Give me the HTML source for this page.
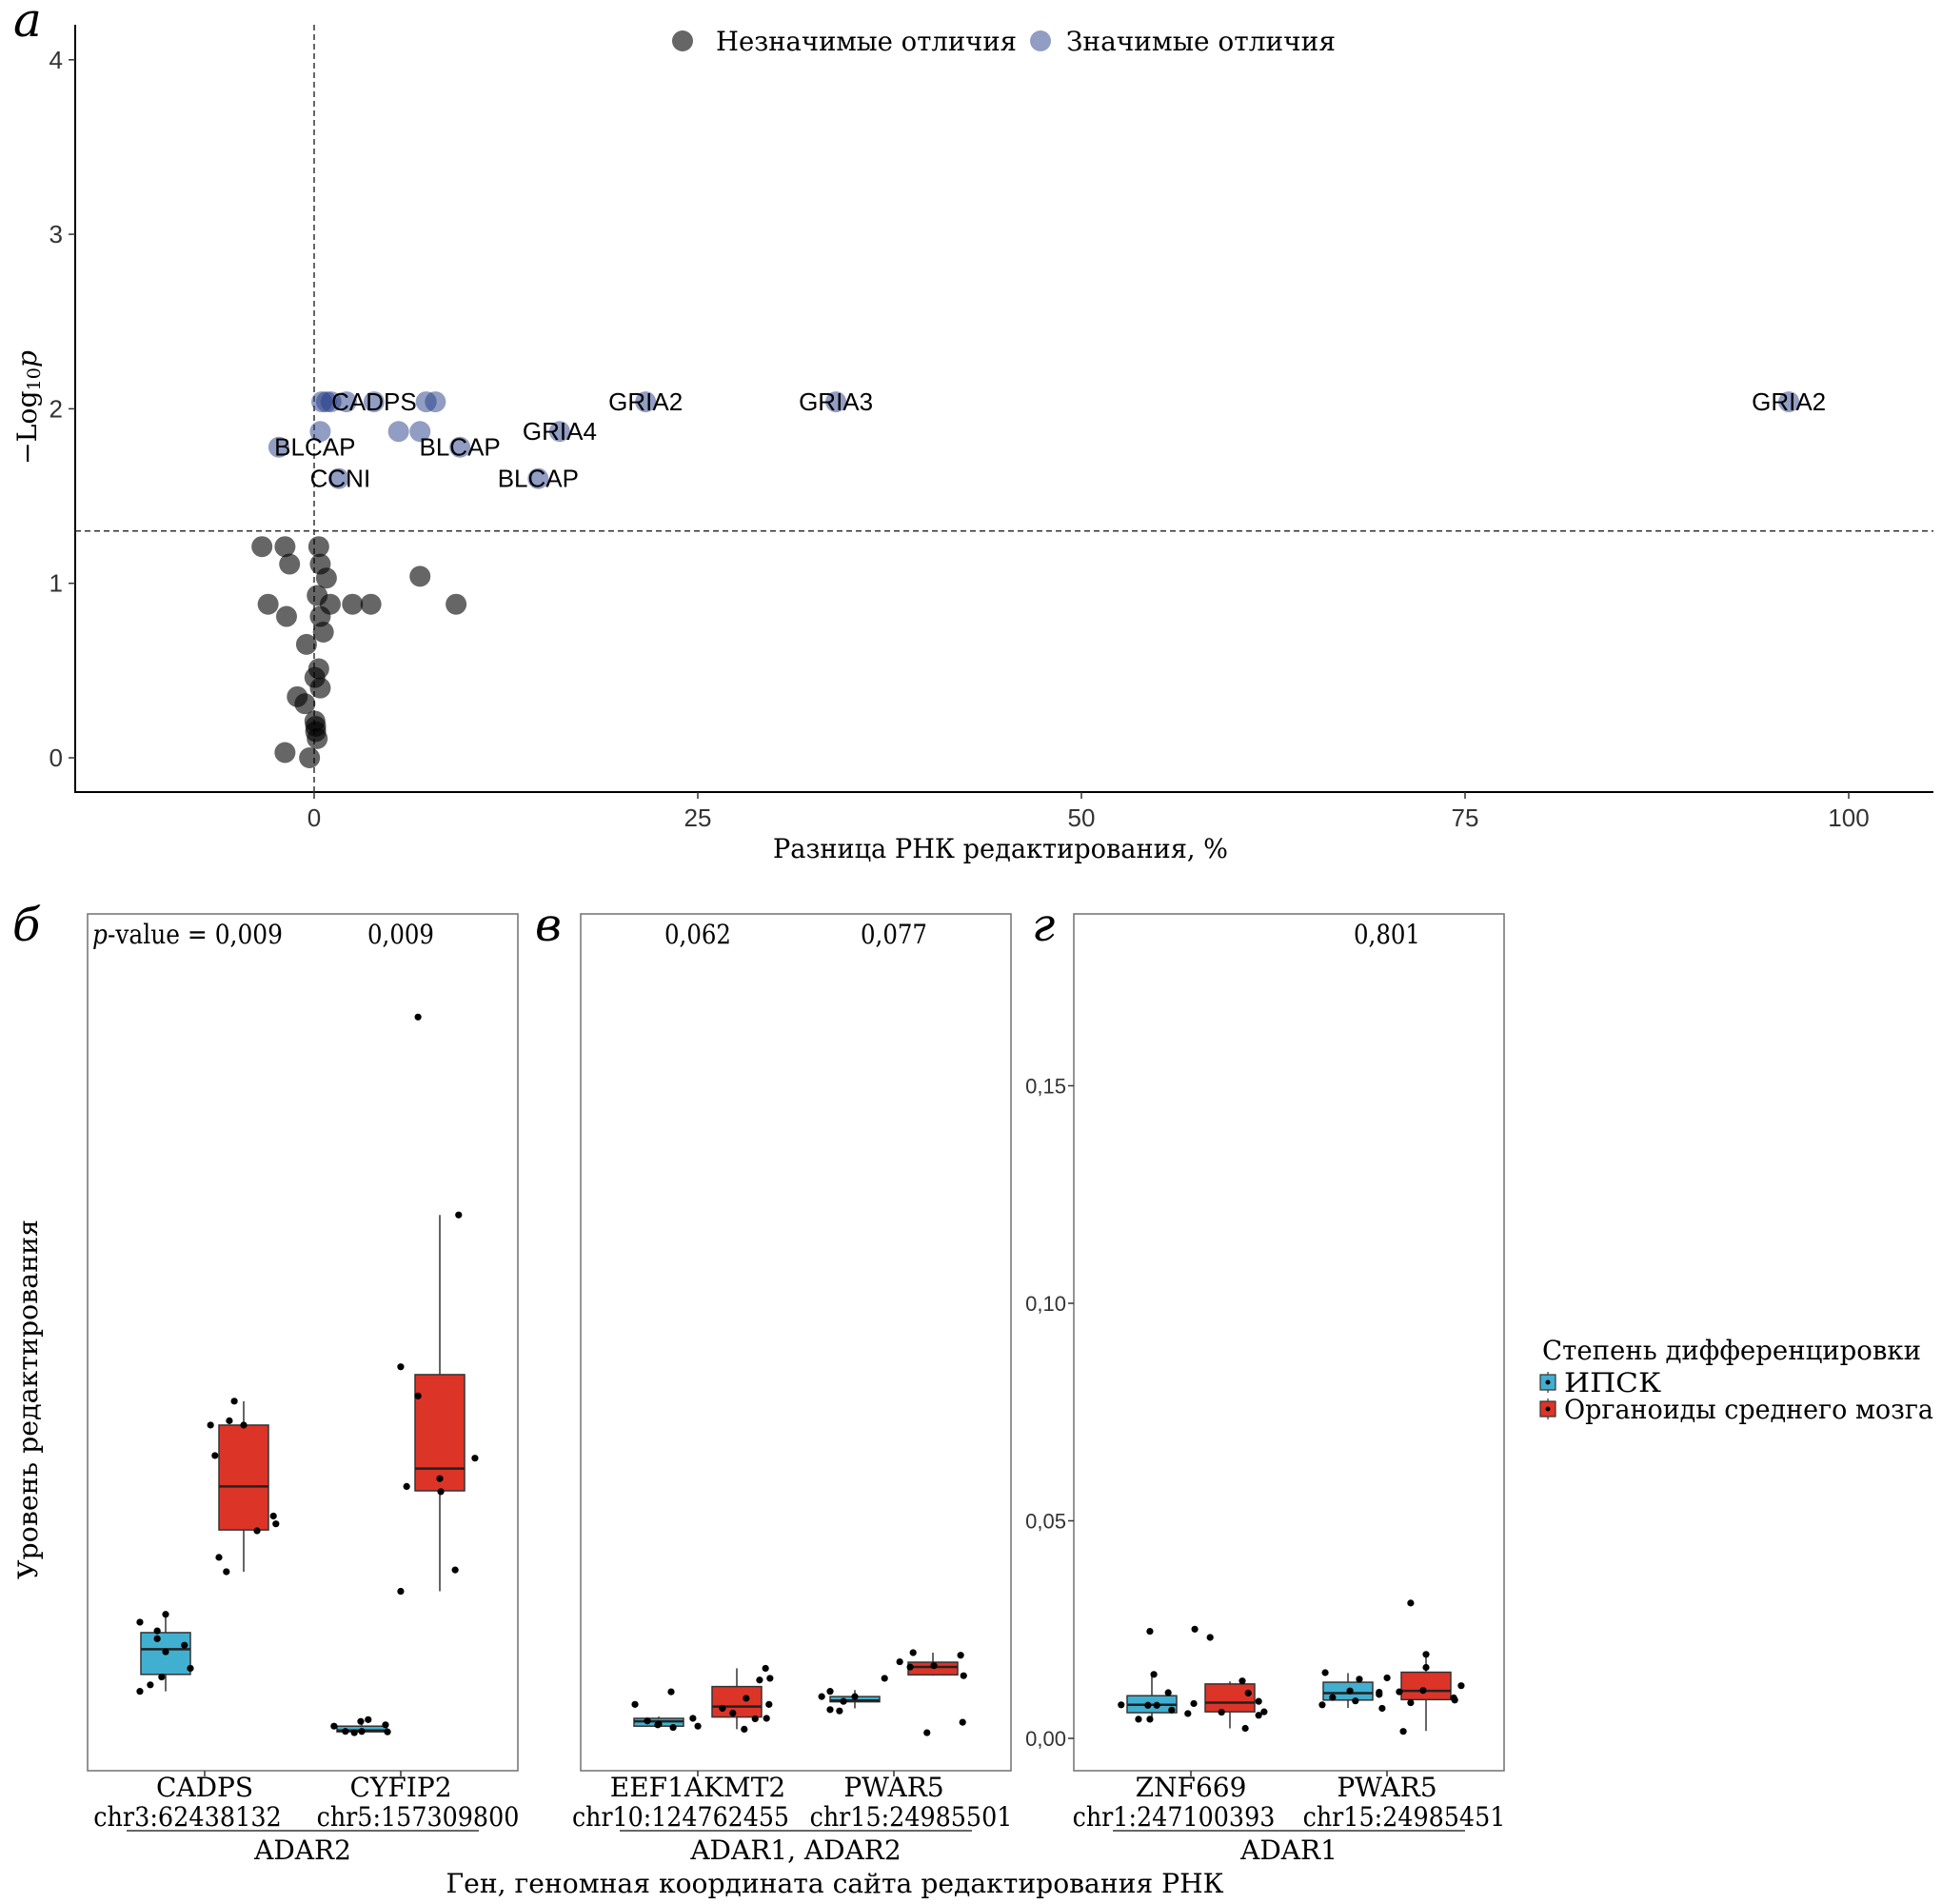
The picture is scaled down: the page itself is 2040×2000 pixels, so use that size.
<!DOCTYPE html>
<html><head><meta charset="utf-8">
<style>
html,body{margin:0;padding:0;background:#fff;}
svg{display:block;}
.sans{font-family:"Liberation Sans",sans-serif;}
.serif{font-family:"DejaVu Serif","Liberation Serif",serif;}
</style></head>
<body>
<svg id="chart" xmlns="http://www.w3.org/2000/svg" width="2040" height="2000" viewBox="0 0 2040 2000">
<rect width="2040" height="2000" fill="#fff"/>
<g id="pa"></g>
<g id="pb"></g>
</svg>
<script>
// ---------- Panel a data ----------
const grayX = [-3.4,-1.9,0.3,-1.6,0.4,0.8,6.9,0.2,-3.0,1.05,2.5,3.7,9.25,-1.8,0.4,0.6,-0.5,0.3,0.05,0.4,-1.1,-0.6,0.05,0.1,0.1,0.2,-1.9,-0.3];
const grayY = [1.21,1.21,1.21,1.11,1.11,1.03,1.04,0.93,0.88,0.88,0.88,0.88,0.88,0.81,0.81,0.72,0.65,0.51,0.46,0.40,0.35,0.31,0.21,0.18,0.15,0.11,0.03,0.0];
const sigX = [0.5,0.8,1.1,2.1,3.9,7.3,7.9,21.6,34.0,96.1,0.4,5.5,6.9,16.0,-2.3,9.5,1.6,14.6];
const sigY = [2.04,2.04,2.04,2.04,2.04,2.04,2.04,2.04,2.04,2.04,1.87,1.87,1.87,1.87,1.78,1.78,1.6,1.6];
const geneLabels = ["CADPS","BLCAP","BLCAP","CCNI","BLCAP","GRIA4","GRIA2","GRIA3","GRIA2"];
const geneLabelX = [3.9,0.05,9.5,1.7,14.6,16.0,21.6,34.0,96.1];
const geneLabelY = [2.04,1.78,1.78,1.6,1.6,1.87,2.04,2.04,2.04];
const xTicksA = [0,25,50,75,100];
const yTicksA = [0,1,2,3,4];
const pThreshold = 1.3;

// ---------- Boxplot data ----------
const groupNames = ["ИПСК","Органоиды среднего мозга"];
const catGenes = ["CADPS","CYFIP2","EEF1AKMT2","PWAR5","ZNF669","PWAR5"];
const catCoords = ["chr3:62438132","chr5:157309800","chr10:124762455","chr15:24985501","chr1:247100393","chr15:24985451"];
const enzymes = ["ADAR2","ADAR1, ADAR2","ADAR1"];
const pValues = ["0,009","0,009","0,062","0,077","","0,801"];
// [q1, median, q3, whiskerLow, whiskerHigh] per box
const boxStats = [
 [0.0147,0.0205,0.0243,0.0108,0.0285],[0.0479,0.0579,0.0720,0.0383,0.0775],
 [0.0015,0.0018,0.0028,0.0013,0.0043],[0.0569,0.0620,0.0836,0.0338,0.1203],
 [0.0028,0.0039,0.0046,0.0025,0.0050],[0.0049,0.0073,0.0119,0.0021,0.0161],
 [0.0084,0.0087,0.0096,0.0069,0.0111],[0.0146,0.0164,0.0175,0.0144,0.0197],
 [0.0059,0.0077,0.0098,0.0044,0.0147],[0.0061,0.0082,0.0125,0.0023,0.0131],
 [0.0088,0.0104,0.0129,0.0070,0.0150],[0.0089,0.0109,0.0152,0.0017,0.0194]
];
const pointVals = [
 [0.0267,0.0247,0.0229,0.0285,0.0199,0.0214,0.0161,0.0141,0.0123,0.0108],
 [0.0720,0.0730,0.0775,0.0720,0.0650,0.0511,0.0493,0.0477,0.0416,0.0383],
 [0.0028,0.0039,0.0043,0.0031,0.0016,0.0013,0.0016,0.0015],
 [0.1658,0.1203,0.0854,0.0787,0.0644,0.0579,0.0597,0.0567,0.0387,0.0338],
 [0.0078,0.0107,0.0040,0.0031,0.0025,0.0046,0.0028,0.0033],
 [0.0161,0.0134,0.0138,0.0092,0.0069,0.0058,0.0045,0.0046,0.0021,0.0078],
 [0.0096,0.0108,0.0066,0.0063,0.0085,0.0096,0.0138],
 [0.0176,0.0197,0.0164,0.0167,0.0191,0.0144,0.0013,0.0037],
 [0.0077,0.0044,0.0044,0.0076,0.0076,0.0246,0.0147,0.0105,0.0065],
 [0.0057,0.0080,0.0251,0.0232,0.0060,0.0132,0.0104,0.0085,0.0053,0.0061,0.0023],
 [0.0077,0.0151,0.0094,0.0109,0.0086,0.0136,0.0106,0.0101,0.0069,0.0139],
 [0.0311,0.0107,0.0082,0.0110,0.0193,0.0163,0.0093,0.0088,0.0121,0.0016]
];
const pointJitter = [
 [-0.52,-0.17,-0.17,0,0,0.38,0.5,-0.08,-0.31,-0.52],
 [-0.67,-0.29,-0.19,0,-0.58,0.6,0.65,0.27,-0.5,-0.35],
 [-0.56,-0.02,0.13,0.48,-0.33,-0.15,0,0.52],
 [-0.44,0.38,-0.79,-0.44,0.71,-0.67,0,0.02,0.31,-0.79],
 [-0.48,0.25,-0.23,-0.02,0.29,0.69,0.79,0],
 [0.58,0.46,0.67,0.19,-0.29,-0.08,0.37,0.6,0.15,0.65],
 [-0.67,-0.5,-0.5,-0.31,-0.23,0,0.6],
 [-0.67,-0.4,-0.46,0.02,0.56,0.62,-0.12,0.6],
 [-0.62,-0.27,-0.04,-0.08,0.10,-0.04,0.04,0.33,0.40],
 [-0.85,-0.73,-0.71,-0.40,-0.17,0.25,0.37,0.58,0.58,0.69,0.31],
 [-0.52,-0.46,-0.31,0.04,0.15,0.23,0.63,0.63,0.69,0.79],
 [-0.31,-0.54,-0.31,-0.06,0,0,0.56,0.58,0.71,-0.46]
];
const yTicksB = [0,0.05,0.10,0.15];
const yTickLabelsB = ["0,00","0,05","0,10","0,15"];

const NS="http://www.w3.org/2000/svg";
function mk(parent,tag,attrs,text){const e=document.createElementNS(NS,tag);for(const k in attrs)e.setAttribute(k,attrs[k]);if(text!==undefined)e.textContent=text;parent.appendChild(e);return e;}

// ---------- Panel a ----------
const pa=document.getElementById('pa');
const ax=x=>330+16.12*x;
const ay=y=>796-183.3*y;
let el;
el=mk(pa,'line',{x1:79,y1:26,x2:79,y2:833,stroke:'#000','stroke-width':2});


el=mk(pa,'line',{x1:78,y1:832,x2:2031,y2:832,stroke:'#000','stroke-width':2});


yTicksA.forEach(t=>{
  el=mk(pa,'line',{x1:72,y1:ay(t),x2:79,y2:ay(t),stroke:'#333','stroke-width':1.5});
  
  
  el=mk(pa,'text',{x:66,y:ay(t)+9,'text-anchor':'end','font-size':26,fill:'#333',class:'sans'},String(t));
  
  
});
xTicksA.forEach(t=>{
  el=mk(pa,'line',{x1:ax(t),y1:832,x2:ax(t),y2:839,stroke:'#333','stroke-width':1.5});
  
  
  el=mk(pa,'text',{x:ax(t),y:868,'text-anchor':'middle','font-size':26,fill:'#333',class:'sans'},String(t));
  
  
});
el=mk(pa,'line',{x1:ax(0),y1:26,x2:ax(0),y2:832,stroke:'#333','stroke-width':1.5,'stroke-dasharray':'6,4'});


el=mk(pa,'line',{x1:79,y1:ay(pThreshold),x2:2031,y2:ay(pThreshold),stroke:'#333','stroke-width':1.5,'stroke-dasharray':'6,4'});


grayX.forEach((x,i)=>{
  el=mk(pa,'circle',{cx:ax(x),cy:ay(grayY[i]),r:11,fill:'#000','fill-opacity':0.6});
  
  
});
sigX.forEach((x,i)=>{
  el=mk(pa,'circle',{cx:ax(x),cy:ay(sigY[i]),r:11,fill:'#243b85','fill-opacity':0.5});
  
  
});
geneLabels.forEach((g,i)=>{
  el=mk(pa,'text',{x:ax(geneLabelX[i]),y:ay(geneLabelY[i])+9,'text-anchor':'middle','font-size':26,fill:'#000',class:'sans'},g);
  
  
});
el=mk(pa,'text',{x:1051,y:901,'text-anchor':'middle','font-size':28,fill:'#000',class:'serif',textLength:478,lengthAdjust:'spacingAndGlyphs'},'Разница РНК редактирования, %');


el=mk(pa,'text',{transform:'translate(38,428) rotate(-90)','text-anchor':'middle','font-size':28,fill:'#000',class:'serif',textLength:120,lengthAdjust:'spacingAndGlyphs'},'');


mk(el,'tspan',{},'−Log');mk(el,'tspan',{'font-size':19,dy:4},'10');mk(el,'tspan',{'font-style':'italic',dy:-4},'p');
el=mk(pa,'text',{x:14,y:38,'font-size':50,'font-style':'italic',fill:'#000',class:'serif'},'а');


// legend
el=mk(pa,'circle',{cx:717,cy:43,r:11,fill:'#000','fill-opacity':0.6});


el=mk(pa,'text',{x:752,y:53,'font-size':28,fill:'#000',class:'serif',textLength:316,lengthAdjust:'spacingAndGlyphs'},'Незначимые отличия');


el=mk(pa,'circle',{cx:1093,cy:43,r:11,fill:'#243b85','fill-opacity':0.5});


el=mk(pa,'text',{x:1120,y:53,'font-size':28,fill:'#000',class:'serif',textLength:283,lengthAdjust:'spacingAndGlyphs'},'Значимые отличия');



// ---------- Boxplot panels ----------
const pb=document.getElementById('pb');
const by=v=>1826-4570*v;
const panelLeft=[92,610,1128], panelW=452, boxW=52, dodge=41;
const catOffset=[123,329];
const fills=['#41afd0','#dd3428'];
const panelLetters=['б','в','г'];
const letterX=[13,562,1084];
panelLeft.forEach((L,p)=>{
  el=mk(pb,'rect',{x:L,y:960,width:panelW,height:900,fill:'none',stroke:'#7a7a7a','stroke-width':1.6});
  
  
  el=mk(pb,'text',{x:letterX[p],y:988,'font-size':48,'font-style':'italic',fill:'#000',class:'serif'},panelLetters[p]);
  
  
  const c0=L+catOffset[0], c1=L+catOffset[1];
  el=mk(pb,'line',{x1:c0-82,y1:1923,x2:c1+82,y2:1923,stroke:'#333','stroke-width':1.5});
  
  
  el=mk(pb,'text',{x:(c0+c1)/2,y:1953,'text-anchor':'middle','font-size':28,fill:'#000',class:'serif'},enzymes[p]);
  
  
  [0,1].forEach(ci=>{
    const cat=p*2+ci, cx=L+catOffset[ci];
    el=mk(pb,'line',{x1:cx,y1:1860,x2:cx,y2:1866,stroke:'#333','stroke-width':1.5});
    
    
    el=mk(pb,'text',{x:cx,y:1887,'text-anchor':'middle','font-size':28,fill:'#000',class:'serif'},catGenes[cat]);
    
    
    el=mk(pb,'text',{x:cx+(ci?18:-18),y:1918,'text-anchor':'middle','font-size':28,fill:'#000',class:'serif',textLength:catCoords[cat].length*15.2,lengthAdjust:'spacingAndGlyphs'},catCoords[cat]);
    
    
    if(pValues[cat]){
      if(cat===0){
        el=mk(pb,'text',{x:97,y:991,'font-size':28,fill:'#000',class:'serif',textLength:200,lengthAdjust:'spacingAndGlyphs'},'');
        mk(el,'tspan',{'font-style':'italic'},'p');mk(el,'tspan',{},'-value = '+pValues[cat]);
      } else {
        el=mk(pb,'text',{x:cx,y:991,'text-anchor':'middle','font-size':28,fill:'#000',class:'serif',textLength:70,lengthAdjust:'spacingAndGlyphs'},pValues[cat]);
      }
      
      
    }
    [0,1].forEach(g=>{
      const b=cat*2+g, s=boxStats[b], bx=cx+(g?dodge:-dodge);
      el=mk(pb,'line',{x1:bx,y1:by(s[4]),x2:bx,y2:by(s[3]),stroke:'#333','stroke-width':1.5});
      
      
      el=mk(pb,'rect',{x:bx-boxW/2,y:by(s[2]),width:boxW,height:Math.max(1,by(s[0])-by(s[2])),fill:fills[g],stroke:'#333','stroke-width':1.5});
      
      
      el=mk(pb,'line',{x1:bx-boxW/2,y1:by(s[1]),x2:bx+boxW/2,y2:by(s[1]),stroke:'#222','stroke-width':2.5});
      
      
      pointVals[b].forEach((v,k)=>{
        el=mk(pb,'circle',{cx:bx+pointJitter[b][k]*boxW,cy:by(v),r:3.6,fill:'#000'});
        
        
      });
    });
  });
});
yTicksB.forEach((t,i)=>{
  el=mk(pb,'line',{x1:1122,y1:by(t),x2:1128,y2:by(t),stroke:'#333','stroke-width':1.5});
  
  
  el=mk(pb,'text',{x:1120,y:by(t)+8,'text-anchor':'end','font-size':22,fill:'#333',class:'sans'},yTickLabelsB[i]);
  
  
});
el=mk(pb,'text',{transform:'translate(39,1470) rotate(-90)','text-anchor':'middle','font-size':28,fill:'#000',class:'serif',textLength:378,lengthAdjust:'spacingAndGlyphs'},'Уровень редактирования');


el=mk(pb,'text',{x:877,y:1988,'text-anchor':'middle','font-size':28,fill:'#000',class:'serif',textLength:817,lengthAdjust:'spacingAndGlyphs'},'Ген, геномная координата сайта редактирования РНК');


el=mk(pb,'text',{x:1620,y:1428,'font-size':28,fill:'#000',class:'serif',textLength:398,lengthAdjust:'spacingAndGlyphs'},'Степень дифференцировки');


groupNames.forEach((n,g)=>{
  const cy=1452+g*28;
  el=mk(pb,'line',{x1:1626,y1:cy-11,x2:1626,y2:cy+11,stroke:'#333','stroke-width':1.2});
  
  
  el=mk(pb,'rect',{x:1618,y:cy-8,width:16,height:16,fill:fills[g],stroke:'#333','stroke-width':1.2});
  
  
  el=mk(pb,'circle',{cx:1626,cy:cy,r:2.5,fill:'#000'});
  
  
  el=mk(pb,'text',{x:1643,y:cy+10,'font-size':28,fill:'#000',class:'serif',textLength:g?388:102,lengthAdjust:'spacingAndGlyphs'},n);
  
  
});
</script>
</body></html>
